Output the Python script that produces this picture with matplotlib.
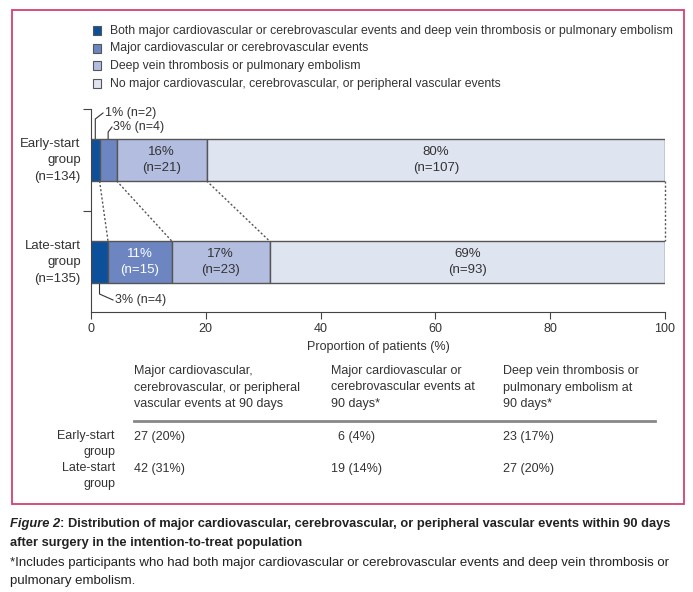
import matplotlib.pyplot as plt
import matplotlib.patches as patches
import numpy as np

plt.rcParams['font.family'] = ['Liberation Sans Narrow', 'Liberation Sans', 'DejaVu Sans']

W, H = 693, 592

# data
groups = ["Early-start\ngroup\n(n=134)", "Late-start\ngroup\n(n=135)"]
totals = [134, 135]
categories = [
    "Both major cardiovascular or cerebrovascular events and deep vein thrombosis or pulmonary embolism",
    "Major cardiovascular or cerebrovascular events",
    "Deep vein thrombosis or pulmonary embolism",
    "No major cardiovascular, cerebrovascular, or peripheral vascular events",
]
early_counts = [2, 4, 21, 107]
late_counts = [4, 15, 23, 93]
early_pct = [1, 3, 16, 80]
late_pct = [3, 11, 17, 69]
colors = ["#0c4f9b", "#6d86c2", "#b3bde0", "#dfe4f1"]
xticks = [0, 20, 40, 60, 80, 100]

table_headers = [
    "Major cardiovascular,\ncerebrovascular, or peripheral\nvascular events at 90 days",
    "Major cardiovascular or\ncerebrovascular events at\n90 days*",
    "Deep vein thrombosis or\npulmonary embolism at\n90 days*",
]
table_rows = ["Early-start\ngroup", "Late-start\ngroup"]
table_early = ["27 (20%)", "6 (4%)", "23 (17%)"]
table_late = ["42 (31%)", "19 (14%)", "27 (20%)"]

fig = plt.figure(figsize=(W / 100, H / 100), dpi=100)
bg = fig.add_axes([0, 0, 1, 1])
bg.set_xlim(0, W)
bg.set_ylim(H, 0)
bg.axis("off")

# pink frame
bg.add_patch(patches.Rectangle((12, 10), 672, 494, fill=False, edgecolor="#d4416e", linewidth=1.3))

ax = fig.add_axes([91 / W, 1 - 312 / H, (665 - 91) / W, (312 - 109) / H])
ax.set_xlim(0, 100)
ax.set_ylim(-0.49, 1.5)
ax.patch.set_alpha(0)

rows = [(1, early_counts, early_pct, totals[0]), (0, late_counts, late_pct, totals[1])]
edges = {}
bh = 0.41
for y, counts, pcts, tot in rows:
    widths = [c / tot * 100 for c in counts]
    left = 0
    bounds = []
    for i, w in enumerate(widths):
        ax.barh(y, w, left=left, height=bh, color=colors[i], edgecolor="#555555", linewidth=1.0)
        left += w
        bounds.append(left)
    edges[y] = bounds

# labels inside bars
def inside(y, counts, pcts, tot, idx, color="#333333"):
    widths = [c / tot * 100 for c in counts]
    cx = sum(widths[:idx]) + widths[idx] / 2
    ax.text(cx, y, f"{pcts[idx]}%\n(n={counts[idx]})", ha="center", va="center",
            fontsize=9.5, color=color, linespacing=1.5)

inside(1, early_counts, early_pct, totals[0], 2)
inside(1, early_counts, early_pct, totals[0], 3)
inside(0, late_counts, late_pct, totals[1], 1, color="white")
inside(0, late_counts, late_pct, totals[1], 2)
inside(0, late_counts, late_pct, totals[1], 3)

# dashed connectors
for a, b in zip(edges[1], edges[0]):
    ax.plot([a, b], [1 - bh / 2, bh / 2], ls=(0, (1.5, 1.5)), color="#555555", lw=1.0, clip_on=False)

# callouts (positions in pixel space via bg axes)
def px(x):
    return 91 + x / 100 * (665 - 91)

e0 = px(early_counts[0] / totals[0] * 100 / 2)
e1 = px((early_counts[0] + early_counts[1] / 2) / totals[0] * 100)
l0 = px(late_counts[0] / totals[1] * 100 / 2)
bg.plot([e0, e0, 103], [139, 119, 113], color="#333333", lw=0.8)
bg.text(105, 113, f"{early_pct[0]}% (n={early_counts[0]})", fontsize=9, va="center", color="#333333")
bg.plot([e1, e1, 112], [139, 132, 127], color="#333333", lw=0.8)
bg.text(113, 127, f"{early_pct[1]}% (n={early_counts[1]})", fontsize=9, va="center", color="#333333")
bg.plot([l0, l0, 113], [283, 294, 300], color="#333333", lw=0.8)
bg.text(115, 300, f"{late_pct[0]}% (n={late_counts[0]})", fontsize=9, va="center", color="#333333")

# group labels
for y, g in zip([1, 0], groups):
    ax.text(-1.8, y, g, ha="right", va="center", fontsize=9.5, color="#333333", linespacing=1.5)

for s in ["top", "right"]:
    ax.spines[s].set_visible(False)
ax.spines["left"].set_color("#444444")
ax.spines["bottom"].set_color("#444444")
ax.set_xticks(xticks)
ax.set_yticks([1.5, 0.5])
ax.set_yticklabels([])
ax.tick_params(axis="y", length=6, color="#444444", direction="out")
ax.tick_params(axis="x", length=5, color="#444444", labelsize=9, labelcolor="#333333", pad=3)
ax.set_xlabel("Proportion of patients (%)", fontsize=9, color="#333333", labelpad=4)

# legend
for i, c in enumerate(categories):
    yy = 31 + i * 17.5
    bg.add_patch(patches.Rectangle((93, yy - 5), 8, 9, facecolor=colors[i], edgecolor="#555555", lw=0.8))
    bg.text(110, yy, c, fontsize=8.8, va="center", color="#333333")

# table
col_x = [134, 331, 503]
for x, h in zip(col_x, table_headers):
    bg.text(x, 365, h, fontsize=9, va="top", ha="left", color="#333333", linespacing=1.5)
bg.plot([134, 655], [421, 421], color="#888888", lw=2)
for yy, lab in zip([437, 469], table_rows):
    bg.text(115, yy - 7, lab, fontsize=9, va="top", ha="right", color="#333333", linespacing=1.5)
for x, v in zip([134, 338, 503], table_early):
    bg.text(x, 437, v, fontsize=9, va="center", color="#333333")
for x, v in zip(col_x, table_late):
    bg.text(x, 469, v, fontsize=9, va="center", color="#333333")

# caption
cap_col = "#222222"
t1 = bg.text(10, 524, "Figure 2", fontsize=9.25, fontweight="bold", fontstyle="italic", va="center", color=cap_col)
fig.canvas.draw()
bb = t1.get_window_extent().transformed(bg.transData.inverted())
bg.text(bb.x1, 524, ": Distribution of major cardiovascular, cerebrovascular, or peripheral vascular events within 90 days",
        fontsize=9.25, fontweight="bold", va="center", color=cap_col)
bg.text(10, 543, "after surgery in the intention-to-treat population", fontsize=9.25, fontweight="bold", va="center", color=cap_col)
bg.text(10, 563, "*Includes participants who had both major cardiovascular or cerebrovascular events and deep vein thrombosis or",
        fontsize=9.5, va="center", color=cap_col)
bg.text(10, 581, "pulmonary embolism.", fontsize=9.5, va="center", color=cap_col)

fig.savefig("out.png", dpi=100)
